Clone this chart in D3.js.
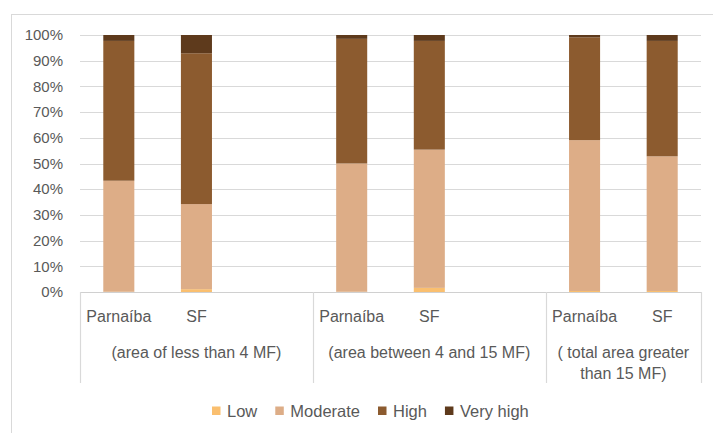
<!DOCTYPE html>
<html>
<head>
<meta charset="utf-8">
<title>stacked bars</title>
<style>
  body { margin: 0; background: #fff; }
  text { font-family: "Liberation Sans", Arial, sans-serif; fill: #595959; }
</style>
</head>
<body>
<svg width="713" height="433"></svg>
<script src="https://cdn.jsdelivr.net/npm/d3@7"></script>
<script>

// data (percent of each bar)
var regions = ["Parnaíba", "SF"];
var groupLabels = [["(area of less than 4 MF)"], ["(area between 4 and 15 MF)"], ["( total area greater", "than 15 MF)"]];
var levels = ["Low", "Moderate", "High", "Very high"];
var low      = [0.1, 1.1, 0.1, 1.6, 0.4, 0.4];
var moderate = [43.2, 33.1, 49.9, 53.8, 58.7, 52.4];
var high     = [54.4, 58.7, 48.5, 42.3, 40.0, 44.9];
var veryHigh = [2.3, 7.1, 1.5, 2.3, 0.9, 2.3];
var yTicks = [0, 0.1, 0.2, 0.3, 0.4, 0.5, 0.6, 0.7, 0.8, 0.9, 1];

var colors = ["#FABF6F", "#DDAD87", "#8C5B2F", "#5E3A1C"];

var svg = d3.select("svg");
var plotL = 80, plotR = 701, plotT = 35, plotB = 292;

// outer frame (cut off at right/bottom)
svg.append("rect")
    .attr("x", 11.5).attr("y", 14.5)
    .attr("width", 800).attr("height", 500)
    .attr("fill", "none").attr("stroke", "#D9D9D9");

// slots: two bars per group, an empty slot between groups
var rows = [], slots = [];
groupLabels.forEach(function(g, gi) {
  regions.forEach(function(r, ri) {
    var i = rows.length;
    var key = "g" + gi + "-" + r;
    rows.push({key: key, group: gi, region: r,
      "Low": low[i] / 100, "Moderate": moderate[i] / 100,
      "High": high[i] / 100, "Very high": veryHigh[i] / 100});
    slots.push(key);
  });
  if (gi < groupLabels.length - 1) slots.push("gap" + gi);
});

var x = d3.scaleBand().domain(slots).range([plotL, plotR])
    .paddingInner(0.6).paddingOuter(0.3);
var y = d3.scaleLinear().domain([0, 1]).range([plotB, plotT]);
var step = x.step(), half = (step - x.bandwidth()) / 2;

// gridlines
svg.append("g").selectAll("line").data(yTicks.slice(1)).join("line")
    .attr("x1", plotL).attr("x2", plotR)
    .attr("y1", function(d) { return Math.round(y(d)) + 0.5; })
    .attr("y2", function(d) { return Math.round(y(d)) + 0.5; })
    .attr("stroke", "#D9D9D9").attr("stroke-width", 1.2);

// y labels
svg.append("g").selectAll("text").data(yTicks).join("text")
    .attr("x", plotL - 17).attr("y", function(d) { return y(d); })
    .attr("dy", "0.35em").attr("text-anchor", "end")
    .style("font-size", "15px")
    .text(d3.format(".0%"));

// stacked bars
var series = d3.stack().keys(levels)(rows);
svg.append("g").selectAll("g").data(series).join("g")
    .attr("fill", function(d, i) { return colors[i]; })
  .selectAll("rect").data(function(d) { return d; }).join("rect")
    .attr("x", function(d) { return x(d.data.key); })
    .attr("width", x.bandwidth())
    .attr("y", function(d) { return y(d[1]); })
    .attr("height", function(d) { return y(d[0]) - y(d[1]); });

// category axis line and separators
svg.append("line")
    .attr("x1", plotL).attr("x2", plotR)
    .attr("y1", plotB + 0.5).attr("y2", plotB + 0.5)
    .attr("stroke", "#D0D0D0").attr("stroke-width", 1.2);

var bounds = [plotL];
groupLabels.forEach(function(g, gi) {
  var b = x("g" + gi + "-SF") + x.bandwidth() + half;
  if (gi < groupLabels.length - 1) b += step; // past the empty slot
  bounds.push(gi < groupLabels.length - 1 ? b : plotR);
});

svg.append("g").selectAll("line").data(bounds).join("line")
    .attr("x1", function(d) { return Math.round(d) + 0.5; })
    .attr("x2", function(d) { return Math.round(d) + 0.5; })
    .attr("y1", plotB).attr("y2", 383)
    .attr("stroke", "#D9D9D9").attr("stroke-width", 1.2);

// region labels
svg.append("g").selectAll("text").data(rows).join("text")
    .attr("x", function(d) { return x(d.key) + x.bandwidth() / 2; })
    .attr("y", 316).attr("dy", "0.35em")
    .attr("text-anchor", "middle")
    .style("font-size", "16px")
    .text(function(d) { return d.region; });

// group labels
var gl = svg.append("g").selectAll("text").data(groupLabels).join("text")
    .attr("text-anchor", "middle")
    .style("font-size", "16px");
gl.selectAll("tspan").data(function(d, i) {
    return d.map(function(t) { return {t: t, gi: i}; });
  }).join("tspan")
    .attr("x", function(d) { return (bounds[d.gi] + bounds[d.gi + 1]) / 2; })
    .attr("y", function(d, j) { return 352 + j * 21; })
    .attr("dy", "0.35em")
    .text(function(d) { return d.t; });

// legend
var lg = svg.append("g").attr("transform", "translate(212,411)");
var lx = 0;
levels.forEach(function(l, i) {
  lg.append("rect").attr("x", lx).attr("y", -4.5)
      .attr("width", 8.5).attr("height", 8.5).attr("fill", colors[i]);
  var t = lg.append("text").attr("x", lx + 15).attr("dy", "0.35em")
      .style("font-size", "16.5px").text(l);
  lx += 15 + t.node().getComputedTextLength() + 18;
});

</script>
</body>
</html>
